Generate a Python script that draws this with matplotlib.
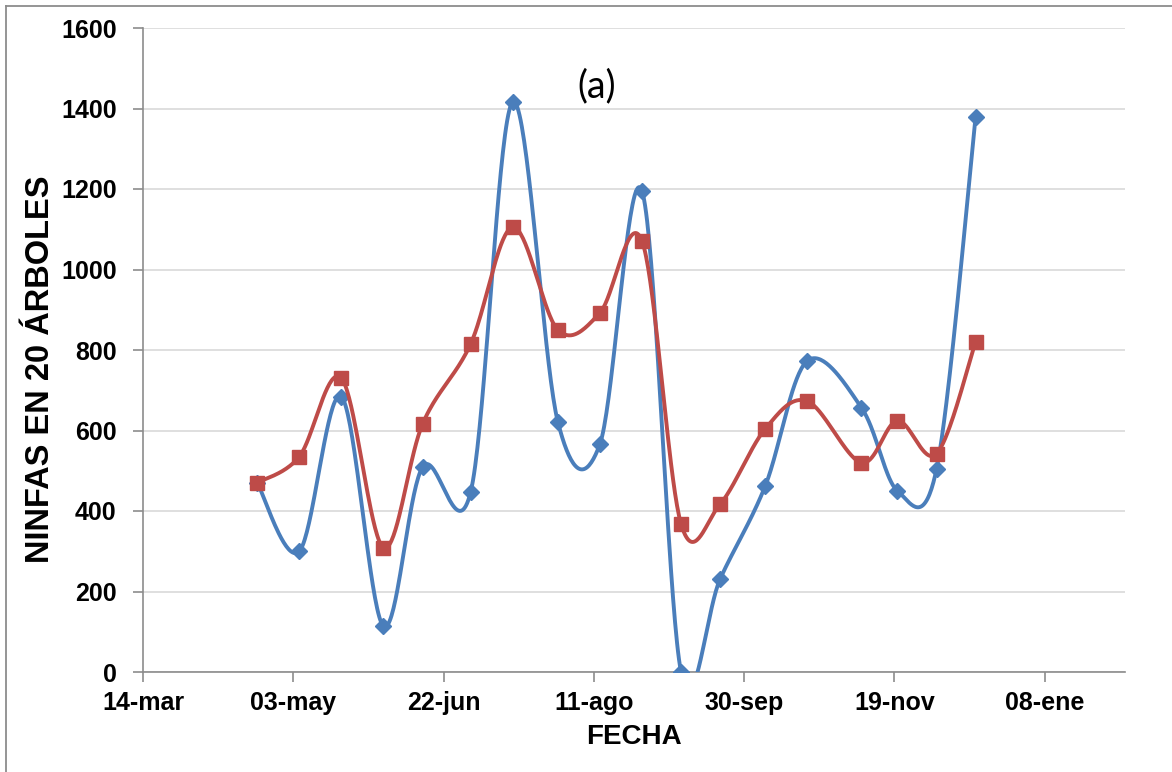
import matplotlib
matplotlib.use("Agg")
import matplotlib.pyplot as plt
import matplotlib.dates as mdates
from matplotlib.lines import Line2D
import numpy as np
import pandas as pd

# fechas de muestreo y ninfas contadas (dos series)
fechas = ["2011-04-21", "2011-05-05", "2011-05-19", "2011-06-02", "2011-06-15",
          "2011-07-01", "2011-07-15", "2011-07-30", "2011-08-13", "2011-08-27",
          "2011-09-09", "2011-09-22", "2011-10-07", "2011-10-21", "2011-11-08",
          "2011-11-20", "2011-12-03", "2011-12-16"]
serie_azul = [470, 300, 684, 114, 509, 447, 1416, 622, 566, 1195,
              0, 231, 462, 773, 657, 450, 504, 1379]
serie_roja = [470, 535, 730, 309, 616, 815, 1105, 850, 892, 1071,
              368, 417, 604, 673, 520, 624, 542, 820]

tick_fechas = ["2011-03-14", "2011-05-03", "2011-06-22", "2011-08-11",
               "2011-09-30", "2011-11-19", "2012-01-08"]
tick_labels = ["14-mar", "03-may", "22-jun", "11-ago", "30-sep", "19-nov", "08-ene"]


def suavizar(x, y, n=40):
    # curva tipo Excel (bezier con tangentes Catmull-Rom)
    x = np.asarray(x, float)
    y = np.asarray(y, float)
    px = np.concatenate([[x[0]], x, [x[-1]]])
    py = np.concatenate([[y[0]], y, [y[-1]]])
    t = np.linspace(0, 1, n)
    xs, ys = [], []
    for i in range(1, len(px) - 2):
        p0 = np.array([px[i], py[i]])
        p3 = np.array([px[i + 1], py[i + 1]])
        c1 = p0 + (np.array([px[i + 1], py[i + 1]]) - np.array([px[i - 1], py[i - 1]])) / 6
        c2 = p3 - (np.array([px[i + 2], py[i + 2]]) - np.array([px[i], py[i]])) / 6
        b = (np.outer((1 - t) ** 3, p0) + np.outer(3 * (1 - t) ** 2 * t, c1)
             + np.outer(3 * (1 - t) * t ** 2, c2) + np.outer(t ** 3, p3))
        xs.append(b[:, 0])
        ys.append(b[:, 1])
    return np.concatenate(xs), np.concatenate(ys)


plt.rcParams['font.family'] = ['Liberation Sans', 'DejaVu Sans']

x = mdates.date2num(pd.to_datetime(fechas))
azul = "#4A7EBB"
rojo = "#BE4B48"

fig = plt.figure(figsize=(11.72, 7.72), dpi=100)
ax = fig.add_axes([143 / 1172, 100 / 772, 982 / 1172, 644 / 772])

xa, ya = suavizar(x, serie_azul)
ax.plot(xa, ya, color=azul, lw=2.8, zorder=3)
ax.plot(x, serie_azul, ls="none", marker="D", ms=8, color=azul, zorder=4)

xr, yr = suavizar(x, serie_roja)
ax.plot(xr, yr, color=rojo, lw=2.8, zorder=5)
ax.plot(x, serie_roja, ls="none", marker="s", ms=9.5, color=rojo, zorder=6)

x0 = mdates.date2num(pd.Timestamp("2011-03-14"))
ax.set_xlim(x0, x0 + 326.7)
ax.set_ylim(0, 1600)
ax.set_yticks(range(0, 1601, 200))
ax.set_xticks(mdates.date2num(pd.to_datetime(tick_fechas)))
ax.set_xticklabels(tick_labels)

ax.grid(axis="y", color="#D9D9D9", lw=1.2)
ax.set_axisbelow(True)
for s in ["top", "right"]:
    ax.spines[s].set_visible(False)
for s in ["left", "bottom"]:
    ax.spines[s].set_color("#8C8C8C")
    ax.spines[s].set_linewidth(1.2)
ax.tick_params(axis="both", direction="out", length=7, width=1.2, color="#8C8C8C",
               labelsize=18)
ax.tick_params(axis="y", pad=12)
ax.tick_params(axis="x", pad=7)
for lab in ax.get_xticklabels() + ax.get_yticklabels():
    lab.set_fontweight("bold")

ax.set_xlabel("FECHA", fontsize=20, fontweight="bold", labelpad=6)
ax.set_ylabel("NINFAS EN 20 ÁRBOLES", fontsize=23.5, fontweight="bold", va="center")
ax.yaxis.set_label_coords(-0.1039, 0.4705)

fig.text(597 / 1172, 1 - 86 / 772, "(a)", fontsize=27, family="Lato",
         ha="center", va="center")

# borde del área del gráfico
fig.add_artist(Line2D([6 / 1172, 6 / 1172], [0, 1 - 6 / 772], color="#8C8C8C", lw=1.3))
fig.add_artist(Line2D([6 / 1172, 1], [1 - 6 / 772, 1 - 6 / 772], color="#8C8C8C", lw=1.3))

fig.savefig("out.png", dpi=100)
